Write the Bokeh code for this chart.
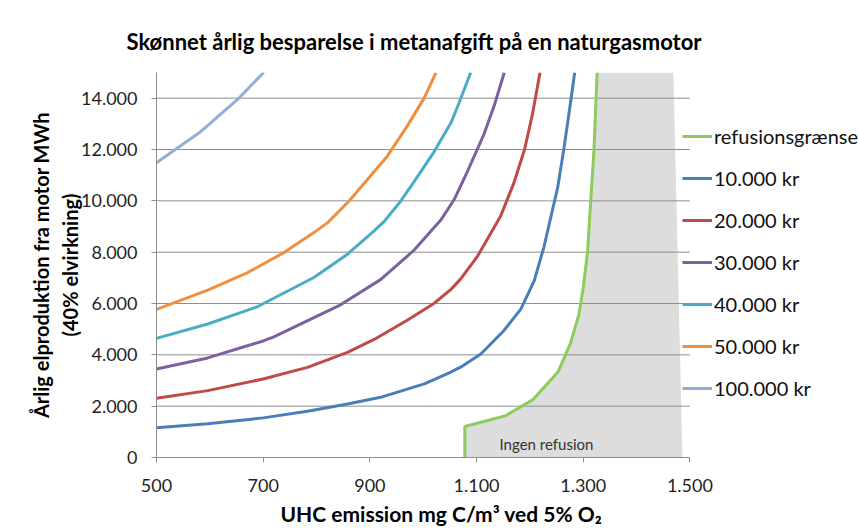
from bokeh.plotting import figure
from bokeh.models import Range1d, FixedTicker, Legend, LegendItem, Label, Title
from bokeh.embed import file_html
from bokeh.resources import INLINE

title_text = "Skønnet årlig besparelse i metanafgift på en naturgasmotor"
x_label = "UHC emission mg C/m³ ved 5% O₂"
y_label = "Årlig elproduktion fra motor MWh\n(40% elvirkning)"
shade_label = "Ingen refusion"

x_ticks = [500, 700, 900, 1100, 1300, 1500]
x_tick_labels = ["500", "700", "900", "1.100", "1.300", "1.500"]
y_ticks = [0, 2000, 4000, 6000, 8000, 10000, 12000, 14000]
y_tick_labels = ["0", "2.000", "4.000", "6.000", "8.000", "10.000", "12.000", "14.000"]

series_names = ["refusionsgrænse", "10.000 kr", "20.000 kr", "30.000 kr",
                "40.000 kr", "50.000 kr", "100.000 kr"]

refusion_x = [1078, 1078, 1155, 1205, 1253, 1276, 1292, 1300, 1308, 1314, 1320, 1326]
refusion_y = [0, 1206, 1633, 2244, 3344, 4445, 5588, 6623, 7984, 9995, 11939, 15000]

shade_corner_x = [1469, 1486]
shade_corner_y = [15000, 0]

kr10_x = [500, 596, 700, 783, 858, 920, 1002, 1052, 1070, 1108, 1151, 1183, 1208, 1226, 1239, 1252, 1264, 1273, 1284]
kr10_y = [1155, 1311, 1544, 1800, 2088, 2345, 2866, 3330, 3520, 4033, 4939, 5783, 6883, 8178, 9345, 10512, 12067, 13366, 15000]

kr20_x = [500, 596, 700, 783, 858, 908, 970, 1020, 1052, 1070, 1102, 1145, 1170, 1190, 1205, 1219]
kr20_y = [2306, 2606, 3060, 3512, 4095, 4600, 5350, 6000, 6550, 6950, 7850, 9400, 10700, 12000, 13400, 15000]

kr30_x = [500, 596, 700, 720, 845, 920, 983, 1033, 1058, 1083, 1114, 1133, 1152]
kr30_y = [3450, 3880, 4540, 4700, 5950, 6930, 8080, 9250, 10050, 11150, 12600, 13700, 15000]

kr40_x = [500, 596, 689, 795, 858, 908, 927, 958, 983, 1020, 1052, 1067, 1089]
kr40_y = [4641, 5200, 5872, 7012, 7922, 8828, 9200, 9995, 10750, 11900, 13040, 13800, 15000]

kr50_x = [500, 596, 671, 739, 795, 821, 861, 877, 933, 970, 1002, 1024]
kr50_y = [5769, 6522, 7206, 7984, 8762, 9150, 9995, 10380, 11750, 12911, 14012, 15000]

kr100_x = [500, 580, 652, 701]
kr100_y = [11486, 12651, 13950, 15000]

colors = ["#8DCB5E", "#4A7EBB", "#BE4B48", "#7D60A0", "#4AACC5", "#F08F3F", "#93AED6"]

FONT = "Lato"
AX = "#8E8E8E"
x_axis_start, x_axis_end = 500, 1500
y_axis_start, y_axis_end = 0, 15000

# the frame extends right of the x axis so that the legend can sit inside it
p = figure(width=858, height=530, output_backend="svg", toolbar_location=None,
           x_range=Range1d(x_axis_start, 1816), y_range=Range1d(y_axis_start, y_axis_end),
           min_border_left=156, min_border_right=0, min_border_top=72, min_border_bottom=73)
p.outline_line_color = None
p.background_fill_color = "white"
p.border_fill_color = "white"

p.title.text = title_text
p.title.text_font = FONT
p.title.text_font_size = "22px"
p.title.text_font_style = "bold"
p.title.text_color = "#000000"
p.title.align = "left"
p.title.offset = -30
p.title.standoff = 36

p.xgrid.grid_line_color = None
p.ygrid.grid_line_color = None

p.xaxis.ticker = FixedTicker(ticks=x_ticks)
p.yaxis.ticker = FixedTicker(ticks=y_ticks)
p.xaxis.major_label_overrides = dict(zip(x_ticks, x_tick_labels))
p.yaxis.major_label_overrides = dict(zip(y_ticks, y_tick_labels))
p.xaxis.bounds = (x_axis_start, x_axis_end)

for ax in (p.xaxis, p.yaxis):
    ax.axis_line_color = AX
    ax.major_tick_line_color = AX
    ax.major_tick_out = 5
    ax.major_tick_in = 0
    ax.minor_tick_line_color = None
    ax.major_label_text_font = FONT
    ax.major_label_text_font_size = "18px"
    ax.major_label_text_color = "#1f1f1f"
    ax.axis_label_text_font = FONT
    ax.axis_label_text_font_style = "bold"
    ax.axis_label_text_font_size = "20px"
    ax.axis_label_text_color = "#000000"

p.yaxis.axis_label = y_label
p.xaxis.major_label_standoff = 16
p.yaxis.major_label_standoff = 14
p.yaxis.axis_label_standoff = -4

p.add_layout(Title(text=x_label, align="left", offset=124, standoff=9,
                   text_font=FONT, text_font_size="21px", text_font_style="bold",
                   text_color="#000000"), "below")

# horizontal grid lines, limited to the x axis extent
p.segment(x0=x_axis_start, x1=x_axis_end, y0=y_ticks, y1=y_ticks,
          line_color=AX, line_width=1, level="underlay")

p.patch(refusion_x + shade_corner_x, refusion_y + shade_corner_y,
        fill_color="#DCDDDC", line_color=None, level="image")

series = [(refusion_x, refusion_y), (kr10_x, kr10_y), (kr20_x, kr20_y), (kr30_x, kr30_y),
          (kr40_x, kr40_y), (kr50_x, kr50_y), (kr100_x, kr100_y)]
items = []
for (xs, ys), name, c in zip(series, series_names, colors):
    r = p.line(xs, ys, line_color=c, line_width=3)
    items.append(LegendItem(label=name, renderers=[r]))

legend = Legend(items=items, location=(526, 57), orientation="vertical",
                glyph_width=30, glyph_height=20, label_height=20, spacing=18,
                label_standoff=2, padding=0, margin=0,
                label_text_font=FONT, label_text_font_size="20px", label_text_color="#111111",
                border_line_color=None, background_fill_alpha=0)
p.add_layout(legend, "center")

p.add_layout(Label(x=1143, y=545, text=shade_label, text_font=FONT,
                   text_font_size="15px", text_color="#333333", text_baseline="middle",
                   text_align="left"))

open("out.html", "w").write(file_html(p, INLINE))
